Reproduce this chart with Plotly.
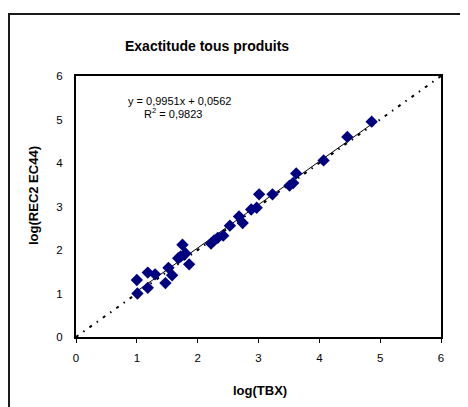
import plotly.graph_objects as go

# Data
tbx = [1.00, 1.01, 1.18, 1.18, 1.30, 1.47, 1.52, 1.58, 1.68, 1.72, 1.75, 1.80, 1.86,
       2.22, 2.27, 2.33, 2.42, 2.53, 2.68, 2.74, 2.88, 2.97, 3.01, 3.23,
       3.51, 3.57, 3.62, 4.07, 4.46, 4.86]
rec2 = [1.31, 1.00, 1.48, 1.13, 1.44, 1.24, 1.59, 1.42, 1.81, 1.85, 2.12, 1.92, 1.67,
        2.15, 2.22, 2.28, 2.33, 2.56, 2.77, 2.62, 2.93, 2.97, 3.28, 3.28,
        3.48, 3.54, 3.76, 4.06, 4.60, 4.95]

slope = 0.9951
intercept = 0.0562
r2 = 0.9823

x_ticks = [0, 1, 2, 3, 4, 5, 6]
y_ticks = [0, 1, 2, 3, 4, 5, 6]

FONT = "Liberation Sans, Arial, sans-serif"

# the page body has an 8px margin; work in page pixels and shift
OFF = 8
W, H = 468 - OFF, 407 - OFF
# plot area in page pixels: x 76..441, y 76..337
PL, PR, PT, PB = 76, 441, 76, 337
L, R, T, B = PL - OFF, (W + OFF) - PR, PT - OFF, (H + OFF) - PB
pw, ph = PR - PL, PB - PT


def px(x):
    return (x - PL) / pw


def py(y):
    return (PB - y) / ph


fig = go.Figure()

# y = x reference (dotted)
fig.add_trace(go.Scatter(
    x=[0, 6], y=[0, 6], mode="lines",
    line=dict(color="black", width=2, dash="3px,6px,1.5px,6px"),
    hoverinfo="skip", showlegend=False))

# linear trendline over data range
xmin, xmax = min(tbx), max(tbx)
fig.add_trace(go.Scatter(
    x=[xmin, xmax], y=[slope * xmin + intercept, slope * xmax + intercept],
    mode="lines", line=dict(color="black", width=1),
    hoverinfo="skip", showlegend=False))

fig.add_trace(go.Scatter(
    x=tbx, y=rec2, mode="markers",
    marker=dict(symbol="diamond", size=9.5, color="#000080", line=dict(width=0)),
    showlegend=False))

fig.update_layout(
    width=W, height=H,
    margin=dict(l=L, r=R, t=T, b=B),
    paper_bgcolor="white", plot_bgcolor="white",
    font=dict(family=FONT, size=11, color="black"),
    xaxis=dict(range=[0, 6], tickvals=x_ticks, showgrid=False, zeroline=False,
               showline=True, linecolor="black", linewidth=2, mirror=True,
               ticks="outside", ticklen=4, tickwidth=1, tickcolor="black",
               ticklabelstandoff=5, tickfont=dict(size=11.5)),
    yaxis=dict(range=[0, 6], tickvals=y_ticks, showgrid=False, zeroline=False,
               showline=True, linecolor="black", linewidth=2, mirror=True,
               ticks="", ticklabelstandoff=9, tickfont=dict(size=11.5)),
    shapes=[dict(type="rect", xref="paper", yref="paper",
                 x0=px(9), x1=px(490), y0=py(430), y1=py(14),
                 line=dict(color="#1a1a1a", width=2), fillcolor="rgba(0,0,0,0)",
                 layer="above")],
    annotations=[
        dict(text="<b>Exactitude tous produits</b>", xref="paper", yref="paper",
             x=px(207), y=py(46), showarrow=False, xanchor="center", yanchor="middle",
             font=dict(size=14, family=FONT)),
        dict(text="<b>log(REC2 EC44)</b>", xref="paper", yref="paper",
             x=px(33), y=py(196), showarrow=False, textangle=-90,
             xanchor="center", yanchor="middle", font=dict(size=13, family=FONT)),
        dict(text="<b>log(TBX)</b>", xref="paper", yref="paper",
             x=px(260), y=py(390), showarrow=False, xanchor="center", yanchor="middle",
             font=dict(size=13, family=FONT)),
        dict(text="y = 0,9951x + 0,0562", xref="paper", yref="paper",
             x=px(179), y=py(101), showarrow=False, xanchor="center", yanchor="middle",
             font=dict(size=11, family=FONT)),
        dict(text="R<sup>2</sup> = 0,9823", xref="paper", yref="paper",
             x=px(173), y=py(113), showarrow=False, xanchor="center", yanchor="middle",
             font=dict(size=11, family=FONT)),
    ],
)

fig.write_html("out.html")
